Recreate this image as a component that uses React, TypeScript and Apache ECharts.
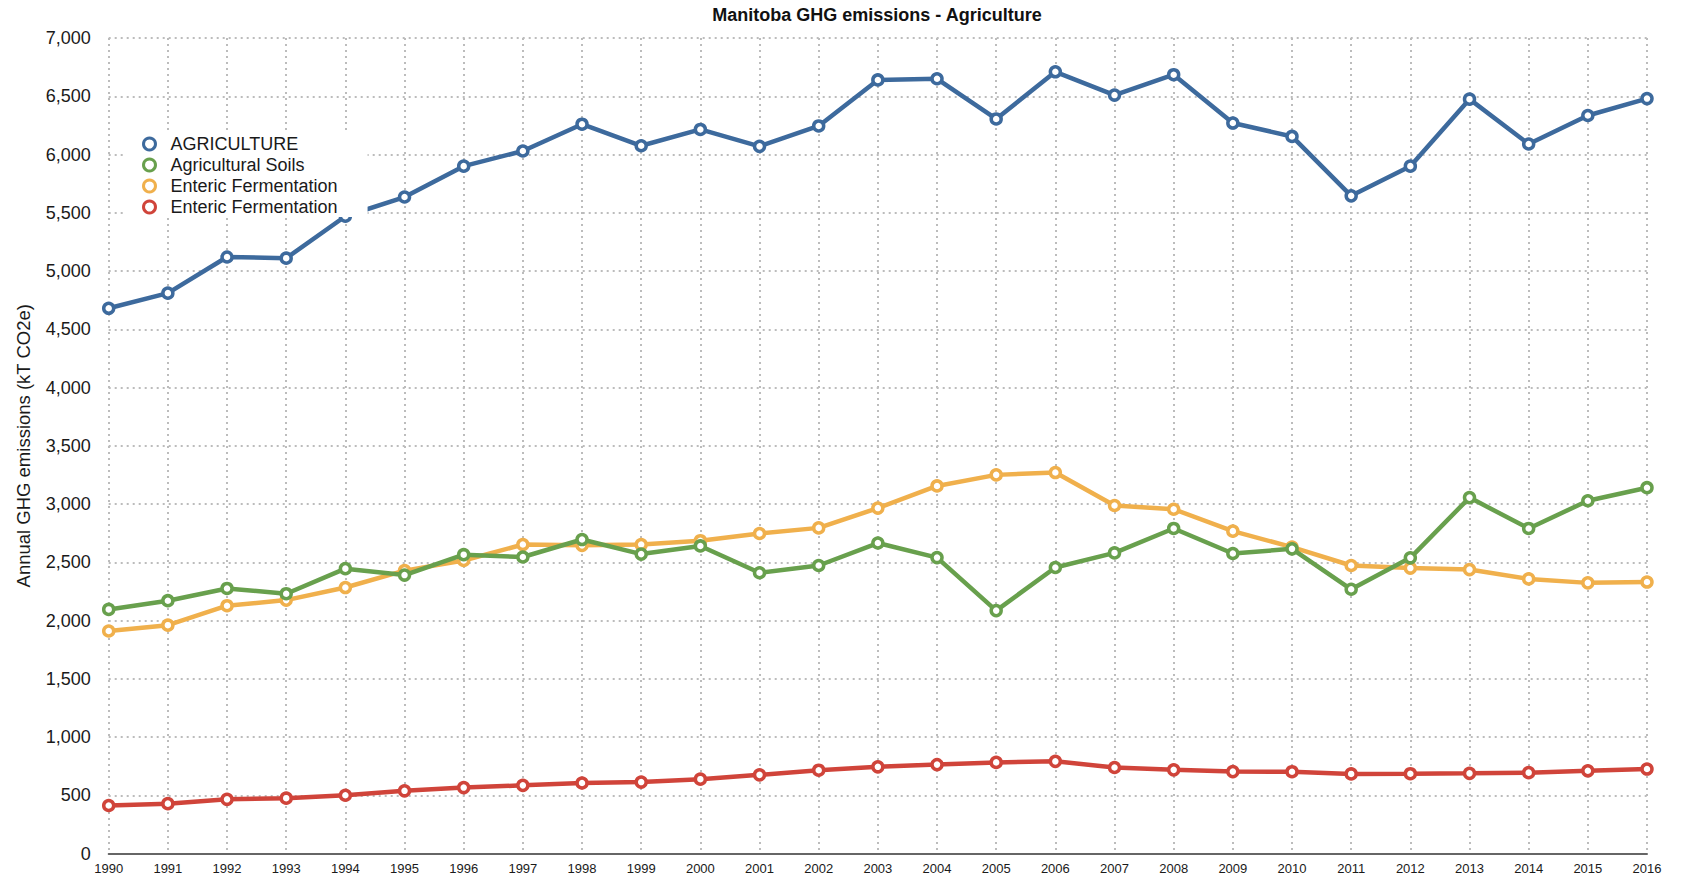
import React, { useEffect, useRef } from "react";
import * as echarts from "echarts";

const years = [
  "1990", "1991", "1992", "1993", "1994", "1995", "1996", "1997", "1998",
  "1999", "2000", "2001", "2002", "2003", "2004", "2005", "2006", "2007",
  "2008", "2009", "2010", "2011", "2012", "2013", "2014", "2015", "2016",
];

const agriculture = [
  4680, 4810, 5120, 5110, 5470, 5635, 5900, 6030, 6260, 6075, 6215, 6070,
  6245, 6640, 6650, 6305, 6710, 6510, 6685, 6270, 6155, 5645, 5900, 6475,
  6090, 6335, 6480,
];

const agriculturalSoils = [
  2095, 2170, 2275, 2230, 2445, 2390, 2565, 2545, 2695, 2570, 2640, 2410,
  2472, 2665, 2540, 2085, 2455, 2580, 2790, 2575, 2615, 2268, 2538, 3055,
  2790, 3028, 3140,
];

const entericA = [
  1910, 1960, 2127, 2175, 2283, 2428, 2515, 2652, 2645, 2652, 2685, 2747,
  2795, 2965, 3155, 3250, 3270, 2987, 2955, 2767, 2630, 2472, 2450, 2437,
  2357, 2323, 2330,
];

const entericB = [
  412, 428, 465, 475, 500, 538, 566, 585, 605, 613, 638, 675, 715, 744, 763,
  782, 791, 738, 718, 703, 702, 683, 685, 688, 694, 710, 725,
];

const seriesKeys = [
  "AGRICULTURE",
  "Agricultural Soils",
  "Enteric Fermentation",
  "Enteric Fermentation (2)",
];
const legendLabels = [
  "AGRICULTURE",
  "Agricultural Soils",
  "Enteric Fermentation",
  "Enteric Fermentation",
];
const seriesData = [agriculture, agriculturalSoils, entericA, entericB];
const colors = ["#3d6a9d", "#68a04d", "#f0b04c", "#d0443a"];
const zOrder = [2, 4, 3, 5];

const yTitle = "Annual GHG emissions (kT CO2e)";
const chartTitle = "Manitoba GHG emissions - Agriculture";

const FONT = "'Liberation Sans', Arial, Helvetica, sans-serif";

export default function App() {
  const ref = useRef<HTMLDivElement>(null);

  useEffect(() => {
    if (!ref.current) return;
    const chart = echarts.init(ref.current, null, { renderer: "svg" });
    const gridDot = { color: "#bcbcbc", width: 2, type: [2, 4] as number[] };
    chart.setOption({
      animation: false,
      backgroundColor: "#ffffff",
      textStyle: { fontFamily: FONT },
      title: {
        text: chartTitle,
        left: 877,
        textAlign: "center",
        top: 6,
        padding: 0,
        textStyle: { fontSize: 18, fontWeight: "bold", color: "#111", fontFamily: FONT },
      },
      legend: {
        orient: "vertical",
        left: 125,
        top: 131,
        backgroundColor: "#ffffff",
        padding: [4, 30, 1, 17],
        itemGap: 3,
        itemWidth: 12,
        itemHeight: 12,
        icon: "circle",
        selectedMode: false,
        data: seriesKeys.map((k, i) => ({
          name: k,
          itemStyle: { color: "#ffffff", borderColor: colors[i], borderWidth: 3 },
        })),
        formatter: (name: string) => legendLabels[seriesKeys.indexOf(name)],
        textStyle: {
          fontSize: 18,
          lineHeight: 18,
          color: "#1a1a1a",
          fontFamily: FONT,
          padding: [0, 0, 0, 10],
        },
        z: 10,
      },
      grid: { left: 108.7, right: 34, top: 38, bottom: 22.5 },
      xAxis: {
        type: "category",
        data: years,
        boundaryGap: false,
        axisLine: { show: true, lineStyle: { color: "#666666", width: 2 } },
        axisTick: { show: false },
        axisLabel: { interval: 0, fontSize: 13, color: "#1a1a1a", margin: 8, fontFamily: FONT },
        splitLine: { show: true, interval: 0, lineStyle: gridDot },
      },
      yAxis: {
        type: "value",
        min: 0,
        max: 7000,
        interval: 500,
        name: yTitle,
        nameLocation: "middle",
        nameGap: 76,
        nameTextStyle: { fontSize: 18.5, color: "#1a1a1a", fontFamily: FONT },
        axisLine: { show: false },
        axisTick: { show: false },
        axisLabel: {
          fontSize: 18,
          color: "#1a1a1a",
          margin: 18,
          fontFamily: FONT,
          formatter: (v: number) => v.toLocaleString("en-US"),
        },
        splitLine: { show: true, lineStyle: gridDot },
      },
      series: seriesKeys.map((k, i) => ({
        name: k,
        type: "line",
        data: seriesData[i],
        z: zOrder[i],
        symbol: "circle",
        symbolSize: 10,
        showAllSymbol: true,
        lineStyle: { color: colors[i], width: 4.5 },
        itemStyle: { color: "#ffffff", borderColor: colors[i], borderWidth: 3.5 },
        emphasis: { disabled: true },
      })),
    });
    return () => chart.dispose();
  }, []);

  return (
    <div
      ref={ref}
      style={{ position: "absolute", left: 0, top: 0, width: 1681, height: 876 }}
    />
  );
}
